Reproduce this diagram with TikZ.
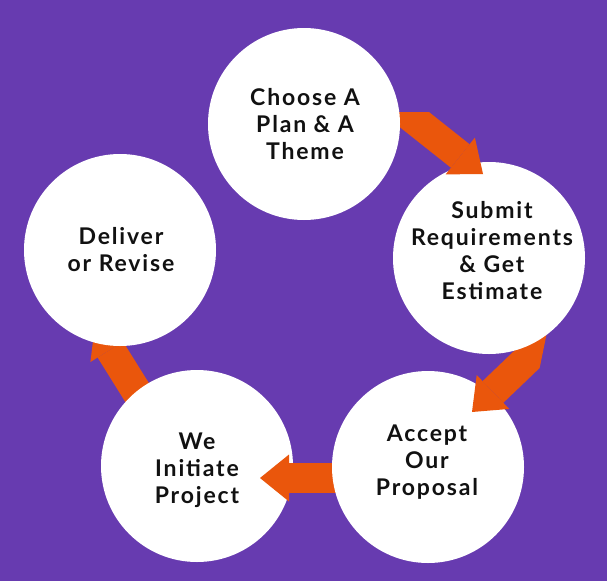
\documentclass[tikz,border=0pt]{standalone}
\usepackage{fontspec}
\setmainfont{Lato}[LetterSpace=8]
\usetikzlibrary{arrows.meta}
\definecolor{bgpurple}{RGB}{103,59,176}
\definecolor{arroworange}{RGB}{234,86,12}
\definecolor{inktext}{RGB}{17,17,17}
\begin{document}
\begin{tikzpicture}[x=1pt,y=-1pt,
  stage/.style={circle, fill=white, draw=none, minimum size=192pt, inner sep=0pt},
  stagetext/.style={align=center, inner sep=0pt, text=inktext,
    font=\bfseries\fontsize{23}{27}\selectfont},
  flow/.style={draw=arroworange, line width=30pt,
    -{Triangle[length=29pt 0 0, width=47pt 0 0, line width=0pt 0 0]}}]
\fill[bgpurple] (0,0) rectangle (607,581);
\useasboundingbox (0,0) rectangle (607,581);
% arrow end points
\coordinate (a1s) at (372,86);
\coordinate (a1e) at (483,174);
\coordinate (a2s) at (566,322);
\coordinate (a2e) at (472,412);
\coordinate (a3s) at (360,478);
\coordinate (a3e) at (260,478);
\coordinate (a4s) at (153,418);
\coordinate (a4e) at (95,325);
% arrow 4 lies beneath both circles
\draw[flow] (a4s) -- (a4e);
\node[stage] (deliver) at (120,250) {};
\node[stagetext] (deliverT) at ([xshift=1pt]deliver.center) {Deliver\\or Revise};
\node[stage] (initiate) at (197,466) {};
\node[stagetext] (initiateT) at ([yshift=-4pt]initiate.center) {We\\Initiate\\Project};
\draw[flow] (a3s) -- (a3e);
\node[stage] (accept) at (428,467) {};
\node[stagetext] (acceptT) at ([xshift=-1pt,yshift=5pt]accept.center) {Accept\\Our\\Proposal};
\begin{scope}
  \clip (0,0) -- (615,0) -- (496,581) -- (0,581) -- cycle;
  \draw[flow] (a2s) -- (a2e);
\end{scope}
\node[stage] (submit) at (489,258) {};
\node[stagetext] (submitT) at ([xshift=3pt,yshift=7pt]submit.center) {Submit\\Requirements\\\& Get\\Estimate};
\begin{scope}
  \clip (0,112) rectangle (607,581);
  \draw[flow] (a1s) -- (a1e);
\end{scope}
\node[stage] (choose) at (304,124) {};
\node[stagetext] (chooseT) at ([xshift=1pt]choose.center) {Choose A\\Plan \& A\\Theme};
\end{tikzpicture}
\end{document}
